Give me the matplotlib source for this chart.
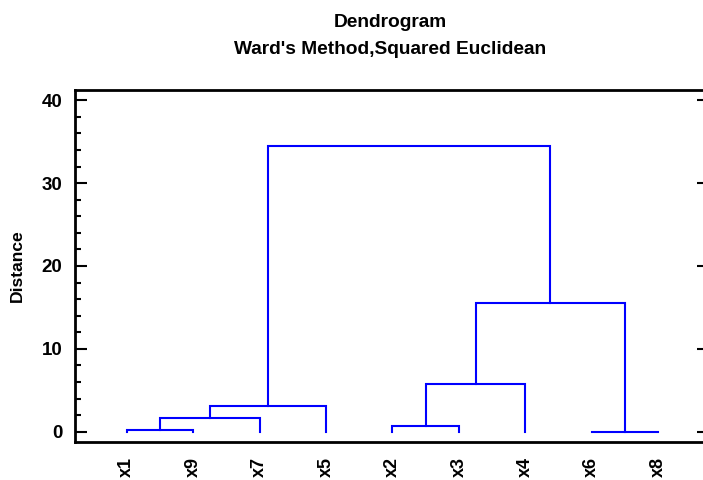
import numpy as np
import matplotlib.pyplot as plt

plt.rcParams['font.family'] = ['Liberation Sans', 'DejaVu Sans']
plt.rcParams['font.weight'] = 'bold'

# leaves in dendrogram order
leaf_labels = ['x1', 'x9', 'x7', 'x5', 'x2', 'x3', 'x4', 'x6', 'x8']
# merges: (left node, right node, distance); leaves are 0..8, merge k gets id 9+k
merge_left = [0, 9, 10, 4, 12, 7, 13, 11]
merge_right = [1, 2, 3, 5, 6, 8, 14, 15]
merge_height = [0.17, 1.65, 3.12, 0.72, 5.8, 0.02, 15.48, 34.45]

n = len(leaf_labels)
xpos = {i: i + 1 for i in range(n)}
ypos = {i: 0.0 for i in range(n)}

fig = plt.figure(figsize=(7.03, 4.80), dpi=100)
ax = fig.add_axes([0.1067, 0.0798, 0.9018, 0.7321])

for k, (a, b, h) in enumerate(zip(merge_left, merge_right, merge_height)):
    xa, xb = xpos[a], xpos[b]
    ax.plot([xa, xa, xb, xb], [ypos[a], h, h, ypos[b]], color='#0000ff', lw=1.5,
            solid_joinstyle='miter')
    xpos[n + k] = (xa + xb) / 2
    ypos[n + k] = h

ax.set_xlim(0.222, 9.763)
ax.set_ylim(-1.2, 41.2)
ax.set_xticks(np.arange(1, n + 1))
ax.set_xticklabels(leaf_labels, rotation=90, fontsize=13, fontweight='bold')
ax.set_yticks([0, 10, 20, 30, 40])
ax.set_yticks(np.arange(0, 41, 2), minor=True)
ax.tick_params(axis='x', length=0, pad=11)
ax.tick_params(axis='y', which='major', direction='in', length=8.6, width=1.5,
               labelsize=13.5, pad=9, right=True)
ax.tick_params(axis='y', which='minor', direction='in', length=4.3, width=1.5, right=False)
for lab in ax.get_yticklabels():
    lab.set_fontweight('bold')
for s in ax.spines.values():
    s.set_linewidth(2)

ax.set_ylabel('Distance', fontsize=12.6, fontweight='bold', labelpad=12)

fig.text(0.555, 1 - 22.7 / 480, 'Dendrogram', ha='center', va='center',
         fontsize=13.8, fontweight='bold')
fig.text(0.555, 1 - 50 / 480, "Ward's Method,Squared Euclidean", ha='center', va='center',
         fontsize=13.8, fontweight='bold')

fig.savefig('out.png', dpi=100)
